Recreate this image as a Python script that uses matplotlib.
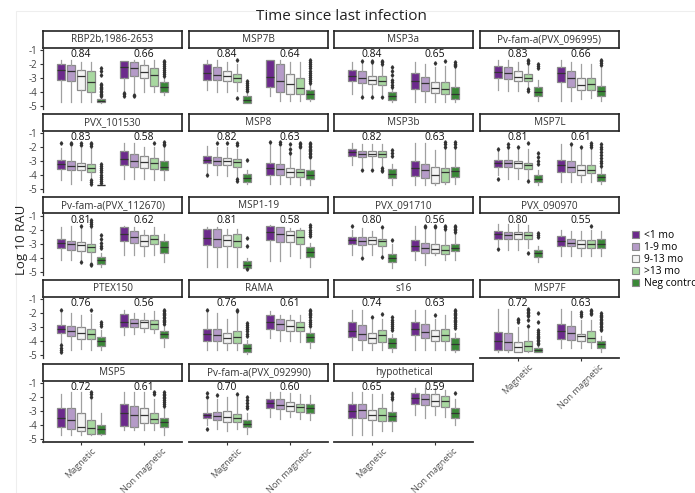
import matplotlib
matplotlib.use("Agg")
import matplotlib.pyplot as plt
from matplotlib.patches import Patch, Rectangle

plt.rcParams['font.family'] = ['Open Sans', 'DejaVu Sans']

# ---- data ----
antigens = ["RBP2b,1986-2653", "MSP7B", "MSP3a", "Pv-fam-a(PVX_096995)",
            "PVX_101530", "MSP8", "MSP3b", "MSP7L",
            "Pv-fam-a(PVX_112670)", "MSP1-19", "PVX_091710", "PVX_090970",
            "PTEX150", "RAMA", "s16", "MSP7F",
            "MSP5", "Pv-fam-a(PVX_092990)", "hypothetical"]
groups = ["Magnetic", "Non magnetic"]
hue_labels = ["<1 mo", "1-9 mo", "9-13 mo", ">13 mo", "Neg control"]

auc_mag = [0.84, 0.84, 0.84, 0.83, 0.83, 0.82, 0.82, 0.81, 0.81, 0.81,
           0.80, 0.80, 0.76, 0.76, 0.74, 0.72, 0.72, 0.70, 0.65]
auc_non = [0.66, 0.64, 0.65, 0.66, 0.58, 0.63, 0.63, 0.61, 0.62, 0.58,
           0.56, 0.55, 0.56, 0.61, 0.63, 0.63, 0.61, 0.60, 0.59]

# per antigen: 10 boxes = 5 Magnetic then 5 Non magnetic
med = [
    [-2.4, -2.5, -2.85, -3.25, -4.6, -2.2, -2.3, -2.55, -2.75, -3.65],
    [-2.6, -2.8, -2.85, -3.0, -4.55, -2.9, -3.2, -3.4, -3.7, -4.15],
    [-2.85, -3.0, -3.15, -3.2, -4.25, -3.2, -3.35, -3.7, -3.8, -4.1],
    [-2.55, -2.65, -2.9, -2.95, -3.95, -2.65, -2.95, -3.45, -3.4, -3.9],
    [-3.2, -3.35, -3.35, -3.45, -4.7, -2.85, -3.0, -3.05, -3.15, -3.4],
    [-2.9, -2.95, -3.0, -3.05, -4.2, -3.5, -3.55, -3.75, -3.8, -3.95],
    [-2.35, -2.45, -2.5, -2.5, -3.9, -3.45, -3.65, -3.95, -3.8, -3.7],
    [-3.15, -3.15, -3.15, -3.3, -4.25, -3.3, -3.4, -3.65, -3.6, -4.1],
    [-2.9, -3.0, -3.05, -3.2, -4.15, -2.3, -2.45, -2.75, -2.65, -3.2],
    [-2.55, -2.6, -2.7, -2.75, -4.45, -2.1, -2.25, -2.35, -2.45, -3.55],
    [-2.72, -2.75, -2.7, -2.8, -4.0, -3.1, -3.3, -3.35, -3.4, -3.3],
    [-2.3, -2.35, -2.3, -2.35, -3.6, -2.75, -2.9, -2.95, -2.95, -2.95],
    [-3.1, -3.25, -3.4, -3.5, -4.0, -2.65, -2.7, -2.65, -2.8, -3.5],
    [-3.45, -3.55, -3.8, -3.7, -4.45, -2.6, -2.8, -2.9, -2.95, -3.7],
    [-3.25, -3.45, -3.8, -3.55, -4.1, -3.1, -3.35, -3.6, -3.55, -4.2],
    [-3.98, -4.05, -4.4, -4.35, -4.62, -3.3, -3.4, -3.65, -3.75, -4.2],
    [-3.45, -3.6, -4.1, -4.2, -4.25, -3.1, -3.25, -3.3, -3.55, -3.75],
    [-3.3, -3.35, -3.4, -3.5, -3.9, -2.4, -2.55, -2.65, -2.7, -2.8],
    [-2.95, -2.9, -3.3, -3.3, -3.35, -2.05, -2.1, -2.25, -2.3, -3.1],
]
q3 = [
    [-2.0, -2.05, -2.4, -2.5, -4.45, -1.8, -1.85, -2.05, -2.3, -3.25],
    [-1.95, -2.2, -2.5, -2.7, -4.3, -1.7, -2.0, -2.7, -3.0, -3.85],
    [-2.4, -2.5, -2.85, -2.85, -4.0, -2.6, -2.9, -3.3, -3.25, -3.65],
    [-2.15, -2.2, -2.5, -2.7, -3.6, -2.2, -2.45, -2.95, -2.95, -3.55],
    [-2.9, -3.0, -3.1, -3.2, -4.68, -2.25, -2.5, -2.65, -2.8, -3.0],
    [-2.6, -2.7, -2.8, -2.85, -3.9, -3.15, -3.2, -3.5, -3.55, -3.65],
    [-2.15, -2.25, -2.3, -2.3, -3.55, -3.0, -3.2, -3.4, -3.5, -3.4],
    [-2.9, -2.9, -3.0, -3.1, -4.0, -2.9, -3.0, -3.25, -3.25, -3.9],
    [-2.6, -2.75, -2.85, -2.95, -3.9, -1.8, -2.05, -2.35, -2.35, -2.75],
    [-1.9, -1.9, -2.35, -2.25, -4.2, -1.7, -1.75, -2.05, -2.0, -3.2],
    [-2.48, -2.5, -2.5, -2.6, -3.7, -2.7, -2.9, -3.0, -3.05, -3.0],
    [-2.05, -2.1, -2.1, -2.15, -3.4, -2.4, -2.6, -2.7, -2.7, -2.65],
    [-2.85, -2.9, -2.95, -3.1, -3.7, -2.05, -2.4, -2.45, -2.5, -3.25],
    [-3.15, -3.15, -3.4, -3.3, -4.2, -2.15, -2.4, -2.5, -2.6, -3.4],
    [-2.65, -2.85, -3.4, -3.2, -3.8, -2.65, -2.8, -3.2, -3.1, -3.8],
    [-3.35, -3.4, -4.05, -3.95, -4.5, -2.8, -2.9, -3.45, -3.3, -3.95],
    [-2.75, -2.75, -3.1, -3.65, -3.95, -2.5, -2.6, -2.75, -3.1, -3.45],
    [-3.1, -3.05, -2.95, -3.2, -3.6, -2.15, -2.15, -2.35, -2.45, -2.45],
    [-2.45, -2.45, -2.9, -2.8, -3.05, -1.7, -1.75, -1.8, -1.9, -2.8],
]
q1 = [
    [-3.15, -3.2, -3.85, -3.95, -4.7, -3.0, -2.85, -3.0, -3.55, -3.97],
    [-3.1, -3.15, -3.2, -3.25, -4.75, -3.6, -3.95, -4.1, -4.15, -4.45],
    [-3.2, -3.35, -3.4, -3.5, -4.55, -3.8, -3.9, -4.05, -4.15, -4.45],
    [-3.0, -3.05, -3.2, -3.2, -4.3, -3.25, -3.6, -3.85, -3.85, -4.3],
    [-3.55, -3.65, -3.65, -3.75, -4.72, -3.25, -3.4, -3.45, -3.55, -3.65],
    [-3.15, -3.25, -3.25, -3.4, -4.5, -3.95, -3.95, -4.1, -4.1, -4.3],
    [-2.65, -2.7, -2.65, -2.7, -4.2, -4.05, -4.2, -4.55, -4.5, -4.1],
    [-3.4, -3.4, -3.45, -3.55, -4.45, -3.75, -3.8, -3.95, -3.85, -4.4],
    [-3.3, -3.4, -3.45, -3.55, -4.4, -2.75, -2.9, -3.1, -3.0, -3.6],
    [-3.05, -3.2, -3.15, -3.2, -4.7, -2.7, -2.85, -2.85, -2.95, -3.9],
    [-3.0, -3.05, -2.95, -3.1, -4.3, -3.5, -3.6, -3.65, -3.7, -3.5],
    [-2.6, -2.65, -2.6, -2.65, -3.9, -3.15, -3.15, -3.25, -3.25, -3.3],
    [-3.4, -3.6, -3.85, -3.85, -4.35, -2.95, -3.0, -3.05, -3.1, -3.8],
    [-3.95, -3.95, -4.15, -4.15, -4.75, -3.1, -3.2, -3.3, -3.3, -4.05],
    [-3.7, -3.9, -4.1, -4.05, -4.45, -3.55, -3.8, -3.95, -3.95, -4.6],
    [-4.6, -4.65, -4.75, -4.7, -4.75, -3.85, -3.9, -3.95, -4.05, -4.5],
    [-4.1, -4.3, -4.4, -4.6, -4.6, -4.05, -4.15, -3.85, -3.85, -4.1],
    [-3.5, -3.65, -3.75, -3.75, -4.15, -2.75, -2.85, -2.95, -3.05, -3.1],
    [-3.45, -3.45, -3.65, -3.7, -3.7, -2.5, -2.55, -2.65, -2.7, -3.45],
]
whis_lo = [
    [-4.7, -4.7, -4.7, -4.7, -4.75, -3.9, -4.0, -4.0, -4.0, -4.2],
    [-3.85, -4.0, -4.0, -3.9, -4.8, -4.3, -4.65, -4.65, -4.65, -4.65],
    [-4.15, -4.25, -4.2, -4.15, -4.7, -4.7, -4.7, -4.7, -4.7, -4.7],
    [-3.85, -3.9, -3.9, -3.6, -4.65, -4.65, -4.65, -4.5, -4.4, -4.65],
    [-4.35, -4.6, -4.35, -4.25, -4.72, -4.25, -4.25, -4.25, -4.35, -4.35],
    [-3.9, -3.95, -4.05, -4.2, -4.65, -4.6, -4.6, -4.6, -4.7, -4.7],
    [-3.25, -3.4, -3.4, -3.4, -4.7, -4.7, -4.7, -4.7, -4.6, -4.6],
    [-4.0, -4.3, -4.25, -4.35, -4.7, -4.5, -4.5, -4.5, -4.5, -4.6],
    [-4.1, -4.1, -4.1, -4.2, -4.6, -3.8, -3.8, -3.85, -3.8, -4.3],
    [-4.65, -4.65, -4.65, -4.65, -4.75, -4.2, -4.2, -3.85, -4.0, -4.65],
    [-3.75, -3.75, -3.75, -3.75, -4.7, -4.1, -4.45, -3.75, -4.1, -4.1],
    [-3.1, -3.4, -3.4, -3.3, -4.3, -3.85, -3.85, -3.85, -3.85, -3.85],
    [-4.15, -4.6, -4.55, -4.6, -4.6, -3.55, -3.45, -3.35, -3.4, -4.4],
    [-4.6, -4.6, -4.6, -4.6, -4.9, -3.8, -3.95, -3.95, -4.05, -4.5],
    [-4.6, -4.6, -4.6, -4.6, -4.75, -4.6, -4.6, -4.6, -4.6, -4.75],
    [-4.78, -4.78, -4.8, -4.8, -4.8, -4.5, -4.5, -4.5, -4.5, -4.75],
    [-4.7, -4.7, -4.7, -4.7, -4.7, -4.35, -4.35, -4.35, -4.35, -4.7],
    [-4.0, -4.3, -4.4, -4.3, -4.6, -3.4, -3.55, -3.4, -3.55, -3.65],
    [-4.7, -4.7, -4.7, -4.4, -4.4, -3.3, -3.5, -3.3, -3.4, -3.95],
]
whis_hi = [
    [-1.7, -1.7, -1.85, -1.85, -4.4, -1.75, -1.7, -1.7, -1.7, -3.0],
    [-1.7, -1.7, -1.85, -2.0, -4.1, -1.7, -1.7, -1.85, -1.85, -3.5],
    [-1.85, -1.85, -2.0, -2.1, -3.8, -1.85, -2.0, -2.2, -2.1, -2.3],
    [-1.7, -1.7, -1.85, -2.0, -3.1, -1.7, -1.85, -2.0, -2.0, -2.3],
    [-2.05, -1.95, -2.05, -2.05, -4.68, -1.7, -1.7, -1.95, -1.95, -1.95],
    [-1.9, -2.0, -2.0, -2.1, -3.6, -1.75, -2.0, -2.1, -2.2, -2.9],
    [-1.7, -1.75, -1.8, -1.8, -3.2, -1.7, -1.7, -2.2, -2.0, -2.1],
    [-2.2, -2.1, -2.1, -2.1, -3.6, -1.75, -1.75, -2.0, -1.9, -3.5],
    [-1.8, -1.7, -1.8, -1.8, -3.6, -1.7, -1.8, -1.95, -1.8, -2.3],
    [-1.8, -1.8, -1.9, -1.9, -4.0, -1.6, -1.8, -1.85, -1.85, -2.9],
    [-1.95, -1.85, -2.05, -1.95, -3.0, -1.7, -1.95, -1.95, -2.05, -2.3],
    [-1.55, -1.55, -1.55, -1.6, -3.1, -1.95, -2.05, -2.05, -1.95, -2.05],
    [-1.95, -1.95, -2.1, -2.05, -3.2, -1.8, -1.95, -1.95, -1.85, -3.0],
    [-1.95, -1.95, -2.4, -1.95, -3.9, -1.85, -2.1, -2.1, -2.1, -3.1],
    [-1.75, -1.75, -2.5, -2.4, -3.5, -1.75, -1.75, -2.4, -2.1, -3.4],
    [-1.73, -1.73, -3.0, -3.1, -4.3, -1.73, -1.85, -2.45, -2.45, -3.6],
    [-1.75, -1.65, -1.65, -2.2, -3.15, -1.65, -1.65, -1.65, -2.1, -2.8],
    [-2.2, -2.1, -2.0, -2.0, -3.15, -1.6, -1.6, -1.7, -1.75, -1.85],
    [-1.65, -1.65, -1.75, -1.75, -2.3, -1.35, -1.35, -1.35, -1.45, -2.1],
]
# outliers: {box index: values}
fliers = [
    {4: [-2.3, -2.5, -2.8, -3.4, -3.5, -3.6, -3.7, -3.8, -3.9, -4.0, -4.1, -4.2, -4.3],
     5: [-4.05, -4.15, -4.25], 6: [-4.2, -4.3],
     9: [-1.75, -1.85, -1.95, -2.1, -2.25, -2.4, -2.55, -2.7, -2.85]},
    {3: [-1.7, -4.4], 4: [-3.2, -3.35, -3.5, -3.6, -3.75, -3.9],
     9: [-1.7, -1.85, -2.0, -2.15, -2.3, -2.45, -2.6, -2.75, -2.9, -3.05, -3.2, -3.35]},
    {1: [-1.8, -4.35], 2: [-1.75, -1.85, -4.35], 3: [-1.75, -1.85, -1.95, -4.35],
     4: [-2.2, -2.5, -2.8, -3.1, -3.3, -3.5, -3.65], 7: [-1.9], 8: [-1.75],
     9: [-1.85, -1.95, -2.05, -2.15]},
    {3: [-1.7, -1.8, -1.9, -3.75, -3.9], 4: [-2.0, -2.15, -2.3],
     9: [-1.7, -1.8, -1.9, -2.05]},
    {0: [-1.7], 1: [-1.7, -1.8], 2: [-1.7, -1.85], 3: [-1.7, -1.8, -1.9, -4.35, -4.5, -4.6],
     4: [-3.2, -3.35, -3.5, -3.65, -3.8, -3.95, -4.1, -4.25, -4.4, -4.55],
     8: [-1.7], 9: [-1.65, -1.75, -1.85]},
    {0: [-4.0], 1: [-1.7], 2: [-1.7], 3: [-1.7, -1.85, -4.3, -4.4], 4: [-2.9],
     5: [-1.65], 6: [-1.65, -1.8], 7: [-1.8, -2.1, -2.4], 8: [-1.7, -1.8, -1.9, -2.0],
     9: [-1.7, -1.8, -1.9, -2.0, -2.1, -2.2, -2.3, -2.4, -2.5, -2.6, -2.7]},
    {1: [-3.6], 2: [-3.6], 3: [-3.45, -3.6, -3.7], 4: [-2.2, -2.4, -2.6],
     8: [-1.65, -1.8, -1.95], 9: [-1.65, -1.8, -1.95]},
    {0: [-2.1, -4.25], 1: [-1.8, -1.95], 2: [-1.95], 3: [-1.7, -4.4], 4: [-2.4, -2.7, -3.0, -3.2],
     6: [-1.75], 7: [-1.95], 8: [-1.7, -1.85, -2.0],
     9: [-1.75, -1.95, -2.15, -2.35, -2.55, -2.75, -2.95, -3.15, -3.35]},
    {2: [-1.7, -4.3], 3: [-1.25, -1.4, -1.55, -1.7, -4.4, -4.5],
     4: [-2.35, -2.6, -2.9, -3.1, -3.3]},
    {4: [-2.55, -3.1, -4.8], 9: [-1.65, -1.8, -1.95, -2.1, -2.25, -2.4]},
    {0: [-1.7], 1: [-3.95], 3: [-1.8, -3.9], 4: [-2.7], 6: [-1.7, -1.8], 7: [-1.7, -1.8],
     8: [-1.7, -1.8, -1.9], 9: [-1.7, -1.8, -1.9, -2.0, -2.1]},
    {0: [-3.35], 3: [-3.6], 4: [-2.2, -2.35, -2.5], 8: [-1.7]},
    {0: [-1.75, -4.3, -4.45, -4.6, -4.75], 3: [-1.75], 4: [-2.6, -2.75, -2.9],
     9: [-1.75, -1.85, -1.95, -2.05, -2.15, -2.25, -2.35, -2.45, -2.55, -2.65, -2.8]},
    {0: [-1.75], 3: [-1.75, -1.85], 4: [-2.7, -2.85, -3.0, -3.15, -3.3, -3.45, -3.6],
     9: [-1.75, -1.85, -1.95, -2.05, -2.15, -2.3, -2.45, -2.6, -2.75, -2.9]},
    {2: [-2.3], 3: [-2.05], 4: [-2.3, -2.45, -2.6, -2.75, -2.9, -3.05, -3.2], 7: [-2.15],
     9: [-1.75, -1.85, -1.95, -2.05, -2.15, -2.25, -2.35, -2.45, -2.55, -2.65, -2.75, -2.9, -3.05]},
    {2: [-2.4, -2.5, -2.65], 3: [-1.7, -1.8, -1.9, -2.0, -2.1, -2.2, -2.5, -2.9],
     4: [-1.95, -2.6, -3.2, -3.35, -3.5, -3.6, -3.7, -3.8, -3.9, -4.0, -4.1, -4.2],
     7: [-1.9, -2.05, -2.2], 8: [-1.75, -1.85, -1.95, -2.05],
     9: [-2.0, -2.1, -2.2, -2.3, -2.4, -2.5, -2.6, -2.7, -2.8, -2.9, -3.0, -3.1, -3.2]},
    {3: [-1.65, -1.8, -1.95], 8: [-1.65, -1.8],
     9: [-1.65, -1.75, -1.85, -1.95, -2.05, -2.2, -2.35, -2.5, -2.65]},
    {0: [-1.7, -1.95, -4.3], 1: [-1.85], 3: [-1.8], 4: [-1.95, -2.2, -2.4, -2.6, -2.8]},
    {4: [-1.7, -1.8, -1.95, -2.1], 9: [-1.7]},
]

# ---- styling ----
W, H = 695, 493
colors = ["#6c2a8c", "#b59bc8", "#f4f4f4", "#a8d8a0", "#3a8837"]
edge_col = "#8a8a8a"
med_col = "#333333"

fig = plt.figure(figsize=(W / 100, H / 100), dpi=100)
fig.patches.append(Rectangle((16 / W, 0), 1, 1 - 11 / H, transform=fig.transFigure,
                             fill=False, edgecolor="#eeeeee", lw=0.8))

col_x = [43, 189, 334, 480]
panel_w = 139
row_top = [31, 114, 197, 280, 364]
head_h = 16.5
plot_h = 61.5

def fig_rect(x, y, w, h):
    return [x / W, 1 - (y + h) / H, w / W, h / H]

n_cols = 4
for i, name in enumerate(antigens):
    r, c = divmod(i, n_cols)
    x0 = col_x[c]
    y0 = row_top[r]

    # strip header
    hax = fig.add_axes(fig_rect(x0, y0, panel_w, head_h))
    hax.set_xticks([]); hax.set_yticks([])
    for s in hax.spines.values():
        s.set_linewidth(1.2); s.set_color("#222222")
    hax.text(0.5, 0.48, name, ha="center", va="center", fontsize=7.2,
             color="#333333", transform=hax.transAxes)

    ax = fig.add_axes(fig_rect(x0, y0 + head_h, panel_w, plot_h))
    stats, pos = [], []
    for k in range(10):
        g, j = divmod(k, 5)
        stats.append(dict(med=med[i][k], q1=q1[i][k], q3=q3[i][k],
                          whislo=whis_lo[i][k], whishi=whis_hi[i][k],
                          fliers=fliers[i].get(k, [])))
        pos.append(g + (j - 2) * 0.16)
    bp = ax.bxp(stats, positions=pos, widths=0.128, patch_artist=True,
                showcaps=False,
                boxprops=dict(edgecolor=edge_col, linewidth=0.9),
                whiskerprops=dict(color="#a0a0a0", linewidth=0.9),
                medianprops=dict(color=med_col, linewidth=0.9),
                flierprops=dict(marker="d", markersize=1.8, markerfacecolor="#333333",
                                markeredgecolor="#333333", linestyle="none"))
    for k, box in enumerate(bp["boxes"]):
        box.set_facecolor(colors[k % 5])

    ax.text(0, -1.3, f"{auc_mag[i]:.2f}", ha="center", va="center", fontsize=7.5,
            color="#111111")
    ax.text(1, -1.3, f"{auc_non[i]:.2f}", ha="center", va="center", fontsize=7.5,
            color="#111111")

    ax.set_xlim(-0.6, 1.6)
    ax.set_ylim(-5.2, -0.8)
    ax.set_facecolor("none")
    for s in ["top", "right"]:
        ax.spines[s].set_visible(False)

    if c == 0:
        ax.set_yticks([-1, -2, -3, -4, -5])
        ax.set_yticklabels(["-1", "-2", "-3", "-4", "-5"])
        ax.spines["left"].set_color("#333333")
        ax.spines["left"].set_linewidth(0.9)
        ax.tick_params(axis="y", length=2.5, width=0.8, pad=1.5, labelsize=7,
                       labelcolor="#444444", color="#333333")
    else:
        ax.spines["left"].set_visible(False)
        ax.set_yticks([])

    last_in_col = (i + n_cols >= len(antigens))
    if last_in_col:
        ax.spines["bottom"].set_color("#333333")
        ax.spines["bottom"].set_linewidth(1.3)
        ax.set_xticks([0, 1])
        ax.set_xticklabels(groups, rotation=45, ha="center", va="top")
        ax.tick_params(axis="x", length=2.5, width=0.8, labelsize=6.6,
                       labelcolor="#555555", color="#333333", pad=0.5)
    else:
        ax.spines["bottom"].set_visible(False)
        ax.set_xticks([])

fig.text(341 / W, 1 - 17 / H, "Time since last infection", ha="center", va="center",
         fontsize=11, color="#222222")
fig.text(21 / W, 1 - 240 / H, "Log 10 RAU", ha="center", va="center", rotation=90,
         fontsize=9.5, color="#222222")

handles = [Patch(facecolor=colors[j], edgecolor=edge_col, linewidth=0.8) for j in range(5)]
fig.legend(handles, hue_labels, loc="upper left", bbox_to_anchor=(632 / W, 1 - 230 / H),
           frameon=False, fontsize=7.4, handlelength=0.7, handleheight=0.7,
           handletextpad=0.5, labelspacing=0.1, borderaxespad=0, borderpad=0)

fig.savefig("out.png", dpi=100)
